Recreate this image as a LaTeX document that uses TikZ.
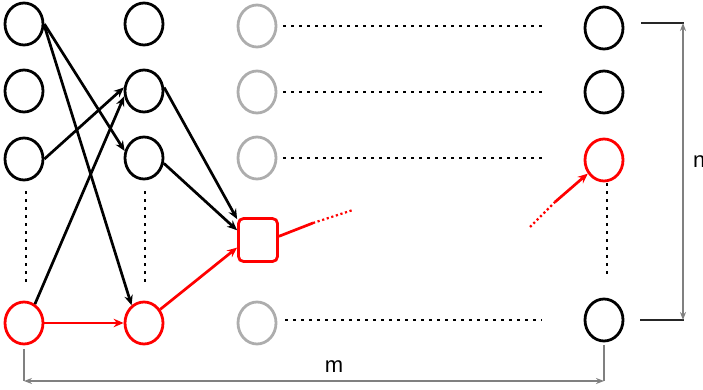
\documentclass[tikz,border=0pt]{standalone}
\usepackage{fontspec}
\setmainfont{Liberation Sans}
\usetikzlibrary{arrows.meta,shapes.geometric}

\begin{document}
\begin{tikzpicture}[x=1pt,y=-1pt,
  unit/.style={ellipse, draw=black, line width=2.8pt, minimum width=38pt,
               minimum height=42pt, inner sep=0pt},
  hot/.style={unit, draw=red},
  faded/.style={unit, draw=black!32},
  hotbox/.style={rectangle, draw=red, line width=2.8pt, rounded corners=5pt,
                 minimum width=39pt, minimum height=43pt, inner sep=0pt},
  link/.style={line width=2.7pt, -{Stealth[length=10pt,width=8.5pt]}},
  hotlink/.style={link, red},
  dots/.style={line width=2.6pt, black, dash pattern=on 2.6pt off 5.4pt},
  reddots/.style={line width=2.2pt, red, dash pattern=on 2.2pt off 2.6pt},
  dim/.style={line width=1.6pt, black!50},
  dimarrows/.style={dim, {Stealth[length=8pt,width=6pt]}-{Stealth[length=8pt,width=6pt]}},
  lbl/.style={font=\fontsize{22}{24}\selectfont, inner sep=0pt}
]
\useasboundingbox (0,0) rectangle (703,390);

% first layer
\node[unit] (a1) at (24,24) {};
\node[unit] (a2) at (24,91) {};
\node[unit] (a3) at (24,159) {};
\node[hot]  (a4) at (24,323) {};

% second layer
\node[unit] (b1) at (144,24) {};
\node[unit] (b2) at (144,91) {};
\node[unit] (b3) at (144,158) {};
\node[hot]  (b4) at (144,323) {};

% third layer
\node[faded]  (c1) at (257,26) {};
\node[faded]  (c2) at (257,92) {};
\node[faded]  (c3) at (257,158) {};
\node[hotbox] (sq) at (258,240) {};
\node[faded]  (c4) at (257,323) {};

% last layer
\node[unit] (d1) at (604,28) {};
\node[unit] (d2) at (604,92) {};
\node[hot]  (d3) at (604,160) {};
\node[unit] (d4) at (604,320) {};

% elided units
\draw[dots] (26,191) -- (26,284);
\draw[dots] (145,191) -- (145,282);
\draw[dots] (607,183) -- (607,277);
\draw[dots] (283,26) -- (542,26);
\draw[dots] (283,92) -- (542,92);
\draw[dots] (283,158) -- (542,158);
\draw[dots] (285,320) -- (542,320);

% connections
\draw[link] (a1.east) -- (b3.160);
\draw[link] (a1.-5) -- (b4.125);
\draw[link] (a3.east) -- (b2.170);
\draw[link] (a4.60) -- (b2.195);
\draw[link] (b2.10) -- (sq.135);
\draw[link] (b3.-15) -- (sq.155);

% highlighted path
\coordinate (r1) at (313,223);
\coordinate (r2) at (353,210);
\coordinate (r3) at (530,227);
\coordinate (r4) at (555,202);
\draw[hotlink] (a4.east) -- (b4.west);
\draw[hotlink] (b4.40) -- (sq.200);
\draw[line width=2.7pt, red] (sq.10) -- (r1);
\draw[reddots] (r1) -- (r2);
\draw[reddots] (r3) -- (r4);
\draw[hotlink] (r4) -- (d3.220);

% width of the network
\coordinate (mL) at (24,381);
\coordinate (mR) at (604,381);
\draw[dim, shorten <=4pt] (a4.south) -- (mL);
\draw[dim, shorten <=3pt] (d4.south) -- (mR);
\draw[dimarrows] (mL) -- (mR);
\node[lbl] (m) at (334,367) {m};

% height of the network
\coordinate (nT) at (683,23);
\coordinate (nB) at (683,320);
\coordinate (tL) at (641,23);
\coordinate (bL) at (640,320);
\draw[line width=1.1pt, black!85] (tL) -- ++(43,0);
\draw[line width=1.1pt, black!85] (bL) -- ++(44,0);
\draw[dimarrows] (nT) -- (nB);
\node[lbl, anchor=west] (n) at (693,162) {n};
\end{tikzpicture}
\end{document}
